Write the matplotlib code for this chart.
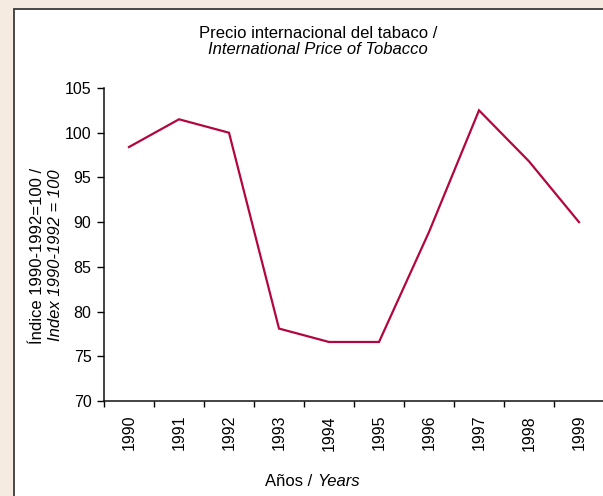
import matplotlib
matplotlib.use("Agg")
import matplotlib.pyplot as plt
from matplotlib.patches import Rectangle

# data
years = ["1990", "1991", "1992", "1993", "1994", "1995", "1996", "1997", "1998", "1999"]
price_index = [98.4, 101.5, 100.0, 78.1, 76.6, 76.6, 88.9, 102.5, 96.8, 90.0]
y_ticks = [70, 75, 80, 85, 90, 95, 100, 105]

W, H = 603, 496
plt.rcParams["font.family"] = ["Liberation Sans", "DejaVu Sans"]

fig = plt.figure(figsize=(W / 100, H / 100), dpi=100)
fig.patch.set_facecolor("#f5ebe0")

# white panel with a dark border on the left / top
panel = Rectangle((14 / W, -0.05), 1.2, (H - 9) / H + 0.05,
                  transform=fig.transFigure, facecolor="white",
                  edgecolor="#3a3a3a", linewidth=1.3, zorder=-10)
fig.patches.append(panel)

def px(x, y):
    return x / W, 1 - y / H

ax = fig.add_axes([104 / W, (H - 401) / H, 500 / W, 313 / H])
ax.set_facecolor("none")
x = list(range(len(years)))
ax.plot(x, price_index, color="#b3063e", lw=1.6, solid_joinstyle="miter")

ax.set_xlim(-0.5, len(years) - 0.5)
ax.set_ylim(70, 105)
ax.set_yticks(y_ticks)
ax.set_yticklabels([str(v) for v in y_ticks], fontsize=11.5)
ax.set_xticks([i - 0.5 for i in range(len(years) + 1)])
ax.set_xticklabels([])
ax.set_xticks(x, minor=True)
ax.set_xticklabels(years, minor=True, rotation=90, fontsize=11.5)
ax.tick_params(axis="x", which="minor", length=0, pad=10)
ax.tick_params(axis="x", which="major", length=4, width=1, direction="out")
ax.tick_params(axis="y", length=5, width=1, direction="out", pad=4)
for s in ["top", "right"]:
    ax.spines[s].set_visible(False)
for s in ["left", "bottom"]:
    ax.spines[s].set_linewidth(1.1)
    ax.spines[s].set_color("#111111")

# titles
fig.text(*px(318, 33), "Precio internacional del tabaco /", ha="center",
         va="center", fontsize=12)
fig.text(*px(318, 50), "International Price of Tobacco", ha="center",
         va="center", fontsize=12, style="italic")

# y label (two lines)
fig.text(*px(38, 256), "\u00cdndice 1990-1992=100 /", ha="center", va="center",
         rotation=90, fontsize=12)
fig.text(*px(56, 255), "Index 1990-1992 = 100", ha="center", va="center",
         rotation=90, fontsize=12, style="italic")

# x label
fig.text(*px(317, 482), "A\u00f1os / ", ha="right", va="center", fontsize=12)
fig.text(*px(317, 482), "Years", ha="left", va="center", fontsize=12,
         style="italic")

fig.savefig("out.png", dpi=100, facecolor=fig.get_facecolor())
